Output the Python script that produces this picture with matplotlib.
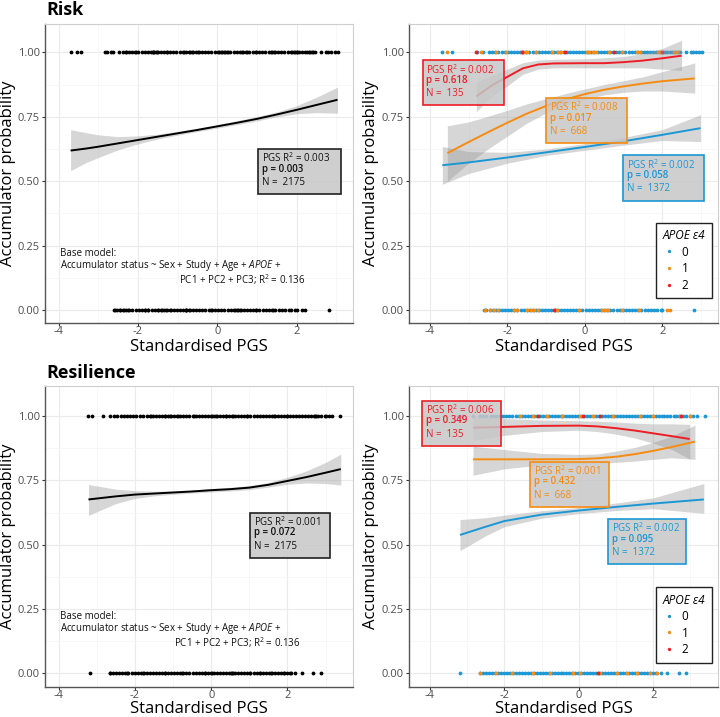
import matplotlib
matplotlib.use('Agg')
import matplotlib.pyplot as plt
from matplotlib.patches import Rectangle
from matplotlib.lines import Line2D

plt.rcParams['font.family'] = ['Open Sans', 'DejaVu Sans']
plt.rcParams['mathtext.fontset'] = 'custom'
plt.rcParams['mathtext.rm'] = 'Open Sans'
plt.rcParams['mathtext.it'] = 'Open Sans:italic'
plt.rcParams['mathtext.bf'] = 'Open Sans:bold'

BLUE, ORANGE, RED = '#1b97d5', '#f68b12', '#ec1d25'
GROUP_COLORS = [BLUE, ORANGE, RED]
GROUP_LABELS = ['0', '1', '2']

# ---------------- Points (standardised PGS of individuals) ----------------
# Risk PGS, accumulators (y = 1), by APOE e4 count
risk_acc_e0 = [-3.70, -3.44, -2.78, -2.62,
               -2.47, -2.39, -2.31, -2.23, -2.15, -2.07, -1.99, -1.91, -1.83, -1.75, -1.67, -1.59,
               -1.51, -1.43, -1.35, -1.27, -1.19, -1.11, -1.03, -0.95, -0.87, -0.79, -0.71, -0.63,
               -0.55, -0.47, -0.39, -0.31, -0.23, -0.15, -0.07, 0.01, 0.09, 0.17, 0.25, 0.33, 0.41,
               0.49, 0.57, 0.65, 0.73, 0.81, 0.89, 0.97, 1.05, 1.13, 1.21, 1.29, 1.37, 1.45, 1.53,
               1.61, 1.69, 1.77, 1.85, 1.93, 2.01, 2.07, 2.13, 2.20, 2.26, 2.33, 2.40, 2.47, 2.62,
               2.74, 2.80, 2.86, 2.96, 3.03]
risk_acc_e1 = [-3.55, -2.68, -2.30, -2.04, -1.62, -1.55, -1.50, -1.27, -0.84, -0.70, -0.62,
               0.05, 0.11, 0.20, 0.28, 0.63, 0.97, 1.35, 1.42, 1.88, 1.95, 2.30, 2.38]
risk_acc_e2 = [-2.82, -1.61, -0.50, 0.75, 2.00]
# Risk PGS, non-accumulators (y = 0)
risk_non_e0 = [-2.60, -2.54, -2.46, -2.38, -2.30, -2.22, -2.14, -2.06, -1.98, -1.90, -1.82,
               -1.74, -1.66, -1.58, -1.50, -1.42, -1.34, -1.26, -1.18, -1.10, -1.02, -0.94, -0.86,
               -0.78, -0.70, -0.62, -0.54, -0.46, -0.38, -0.30, -0.22, -0.14, -0.06, 0.02, 0.10,
               0.18, 0.26, 0.34, 0.42, 0.50, 0.58, 0.66, 0.74, 0.82, 0.90, 0.98, 1.06, 1.14, 1.22,
               1.30, 1.38, 1.46, 1.55, 1.62, 1.70, 1.80, 1.86, 1.96, 2.00, 2.82]
risk_non_e1 = [-2.58, -2.45, -2.35, -2.25, -1.82, -1.75, -1.50, -1.40, -1.30, -1.20, -0.78,
               -0.72, -0.15, 0.45, 0.52, 0.60, 0.97, 1.40, 2.13, 2.20]
risk_non_e2 = [-0.80]

# Resilience PGS, accumulators (y = 1)
res_acc_e0 = [-3.24, -3.13, -2.83, -2.65, -2.56, -2.48,
              -2.36, -2.28, -2.20, -2.12, -2.04, -1.96, -1.88, -1.80, -1.69, -1.61, -1.53, -1.45,
              -1.37, -1.29, -1.21, -1.13, -1.05, -0.97, -0.89, -0.81, -0.73, -0.65, -0.57, -0.49,
              -0.41, -0.33, -0.25, -0.17, -0.09, -0.01, 0.07, 0.15, 0.23, 0.31, 0.39, 0.47, 0.55,
              0.63, 0.71, 0.79, 0.87, 0.95, 1.03, 1.11, 1.19, 1.27, 1.35, 1.43, 1.51, 1.59, 1.67,
              1.75, 1.83, 1.91, 1.99, 2.07, 2.15, 2.23, 2.30, 2.38, 2.46, 2.55, 2.62, 2.70, 2.80,
              2.88, 3.00, 3.08, 3.17, 3.38]
res_acc_e1 = [-1.58, -1.22, -0.86, -0.46, 0.03, 0.39, 0.93, 1.65, 2.00, 2.72, 2.99]
res_acc_e2 = [-1.09, 0.12, 0.57, 2.75]
# Resilience PGS, non-accumulators (y = 0)
res_non_e0 = [-3.19, -2.65, -2.57, -2.49, -2.41, -2.33, -2.25, -2.17, -2.09, -2.01, -1.93,
              -1.85, -1.77, -1.69, -1.61, -1.53, -1.45, -1.37, -1.29, -1.21, -1.13, -1.05, -0.97,
              -0.89, -0.81, -0.73, -0.65, -0.57, -0.49, -0.41, -0.33, -0.25, -0.17, -0.09, -0.01,
              0.07, 0.15, 0.23, 0.31, 0.39, 0.47, 0.55, 0.63, 0.71, 0.79, 0.87, 0.95, 1.03, 1.11,
              1.19, 1.27, 1.35, 1.43, 1.51, 1.59, 1.67, 1.75, 1.83, 1.91, 1.99, 2.07, 2.20, 2.38,
              2.68, 2.88]
res_non_e1 = [-2.66, -2.21, -1.80, -1.22, -0.77, -0.15, 0.03, 0.57, 1.02, 1.29, 1.56, 1.91, 2.10]
res_non_e2 = [0.52]

# ---------------- Smooth fits (x, fit, lower, upper) ----------------
risk_all_x = [-3.70, -3.30, -3.00, -2.50, -2.00, -1.50, -1.00, -0.50, 0.00, 0.50, 1.00, 1.50, 2.00, 2.50, 3.03]
risk_all_fit = [0.619, 0.627, 0.634, 0.647, 0.660, 0.673, 0.686, 0.699, 0.713, 0.727, 0.742, 0.759, 0.777, 0.796, 0.816]
risk_all_lo = [0.541, 0.573, 0.592, 0.622, 0.645, 0.664, 0.679, 0.693, 0.706, 0.720, 0.734, 0.750, 0.762, 0.766, 0.764]
risk_all_hi = [0.700, 0.688, 0.680, 0.673, 0.676, 0.683, 0.694, 0.706, 0.720, 0.735, 0.751, 0.769, 0.793, 0.826, 0.865]

res_all_x = [-3.22, -2.50, -2.00, -1.50, -1.00, -0.50, 0.00, 0.50, 1.00, 1.50, 2.00, 2.50, 3.00, 3.40]
res_all_fit = [0.676, 0.688, 0.695, 0.699, 0.703, 0.707, 0.712, 0.716, 0.722, 0.733, 0.748, 0.763, 0.780, 0.794]
res_all_lo = [0.614, 0.660, 0.680, 0.690, 0.696, 0.701, 0.705, 0.709, 0.714, 0.724, 0.735, 0.740, 0.738, 0.732]
res_all_hi = [0.734, 0.716, 0.710, 0.708, 0.710, 0.713, 0.719, 0.723, 0.730, 0.742, 0.762, 0.787, 0.820, 0.852]

risk_e0_x = [-3.68, -3.00, -2.00, -1.00, 0.00, 1.00, 2.00, 2.99]
risk_e0_fit = [0.562, 0.573, 0.592, 0.612, 0.633, 0.655, 0.680, 0.706]
risk_e0_lo = [0.488, 0.530, 0.570, 0.600, 0.620, 0.640, 0.658, 0.654]
risk_e0_hi = [0.635, 0.615, 0.612, 0.625, 0.646, 0.670, 0.700, 0.758]

risk_e1_x = [-3.55, -3.00, -2.50, -2.00, -1.50, -1.00, -0.50, 0.00, 0.50, 1.00, 1.50, 2.00, 2.84]
risk_e1_fit = [0.609, 0.652, 0.690, 0.727, 0.762, 0.792, 0.817, 0.838, 0.855, 0.868, 0.879, 0.888, 0.899]
risk_e1_lo = [0.500, 0.570, 0.625, 0.675, 0.725, 0.765, 0.795, 0.818, 0.835, 0.845, 0.850, 0.850, 0.842]
risk_e1_hi = [0.715, 0.730, 0.752, 0.775, 0.800, 0.820, 0.840, 0.858, 0.875, 0.890, 0.905, 0.925, 0.959]

risk_e2_x = [-2.80, -2.40, -2.00, -1.60, -1.20, -0.80, 0.00, 0.50, 1.00, 1.50, 2.00, 2.50]
risk_e2_fit = [0.829, 0.872, 0.905, 0.938, 0.953, 0.957, 0.958, 0.958, 0.962, 0.968, 0.977, 0.987]
risk_e2_lo = [0.770, 0.830, 0.870, 0.915, 0.935, 0.940, 0.940, 0.940, 0.940, 0.940, 0.935, 0.930]
risk_e2_hi = [0.885, 0.910, 0.935, 0.960, 0.970, 0.973, 0.975, 0.979, 0.984, 0.995, 1.015, 1.047]

res_e0_x = [-3.19, -2.50, -2.00, -1.00, 0.00, 1.00, 2.00, 3.36]
res_e0_fit = [0.538, 0.570, 0.592, 0.617, 0.633, 0.647, 0.660, 0.676]
res_e0_lo = [0.477, 0.535, 0.570, 0.603, 0.621, 0.633, 0.640, 0.622]
res_e0_hi = [0.598, 0.605, 0.615, 0.632, 0.645, 0.662, 0.682, 0.738]

res_e1_x = [-2.84, -2.00, -1.00, 0.00, 0.50, 1.00, 1.50, 2.00, 2.50, 3.12]
res_e1_fit = [0.832, 0.832, 0.832, 0.833, 0.836, 0.842, 0.852, 0.865, 0.880, 0.901]
res_e1_lo = [0.770, 0.795, 0.810, 0.815, 0.818, 0.820, 0.825, 0.832, 0.838, 0.832]
res_e1_hi = [0.883, 0.870, 0.855, 0.851, 0.853, 0.864, 0.878, 0.898, 0.922, 0.965]

res_e2_x = [-2.84, -2.00, -1.00, 0.00, 0.50, 1.00, 1.50, 2.00, 2.50, 2.98]
res_e2_fit = [0.955, 0.958, 0.962, 0.963, 0.960, 0.953, 0.944, 0.933, 0.922, 0.911]
res_e2_lo = [0.905, 0.925, 0.940, 0.945, 0.940, 0.930, 0.915, 0.895, 0.870, 0.833]
res_e2_hi = [1.005, 0.990, 0.985, 0.982, 0.980, 0.977, 0.973, 0.970, 0.970, 0.968]

# ---------------- Annotation texts ----------------
risk_all_stats = ['PGS R$^2$ = 0.003', 'p = 0.003', 'N =  2175']
res_all_stats = ['PGS R$^2$ = 0.001', 'p = 0.072', 'N =  2175']
risk_grp_stats = [['PGS R$^2$ = 0.002', 'p = 0.058', 'N =  1372'],
                  ['PGS R$^2$ = 0.008', 'p = 0.017', 'N =  668'],
                  ['PGS R$^2$ = 0.002', 'p = 0.618', 'N =  135']]
res_grp_stats = [['PGS R$^2$ = 0.002', 'p = 0.095', 'N =  1372'],
                 ['PGS R$^2$ = 0.001', 'p = 0.432', 'N =  668'],
                 ['PGS R$^2$ = 0.006', 'p = 0.349', 'N =  135']]
base_model = ['Base model:',
              'Accumulator status ~ Sex + Study + Age + $\\it{APOE}$ +',
              'PC1 + PC2 + PC3; R$^2$ = 0.136']

# ---------------- Figure ----------------
W, H = 720, 717
fig = plt.figure(figsize=(W / 100, H / 100), dpi=100)


def px_axes(l, t, r, b):
    return fig.add_axes([l / W, 1 - b / H, (r - l) / W, (b - t) / H])


ax_tl = px_axes(45, 24, 353, 323)
ax_tr = px_axes(409, 24, 718, 323)
ax_bl = px_axes(45, 386, 353, 687)
ax_br = px_axes(409, 386, 718, 687)

ax_tl.set_xlim(-4.345, 3.42); ax_tl.set_ylim(-0.05, 1.11)
ax_tr.set_xlim(-4.54, 3.44); ax_tr.set_ylim(-0.05, 1.11)
ax_bl.set_xlim(-4.36, 3.72); ax_bl.set_ylim(-0.053, 1.117)
ax_br.set_xlim(-4.56, 3.74); ax_br.set_ylim(-0.053, 1.117)


def style(ax, ylab_x, xlab_y):
    ax.set_xticks([-4, -2, 0, 2])
    ax.set_xticklabels(['-4', '-2', '0', '2'])
    ax.set_yticks([0, 0.25, 0.5, 0.75, 1.0])
    ax.set_yticklabels(['0.00', '0.25', '0.50', '0.75', '1.00'])
    ax.set_xticks([-3, -1, 1, 3], minor=True)
    ax.set_yticks([0.125, 0.375, 0.625, 0.875], minor=True)
    ax.tick_params(which='minor', length=0)
    ax.tick_params(which='major', length=2.2, width=0.8, color='#333333',
                   labelcolor='#4d4d4d', labelsize=8)
    ax.tick_params(axis='x', which='major', pad=0.3)
    ax.tick_params(axis='y', which='major', pad=1.5)
    ax.grid(which='major', color='#ebebeb', lw=0.8)
    ax.grid(which='minor', color='#f4f4f4', lw=0.5)
    ax.set_axisbelow(True)
    for s in ['top', 'right']:
        ax.spines[s].set_color('#cfcfcf'); ax.spines[s].set_linewidth(0.8)
    for s in ['left', 'bottom']:
        ax.spines[s].set_color('#555555'); ax.spines[s].set_linewidth(1.0)
    ax.set_xlabel('Standardised PGS', fontsize=12)
    ax.set_ylabel('Accumulator probability', fontsize=12)
    ax.yaxis.set_label_coords(ylab_x, 0.5)
    ax.xaxis.set_label_coords(0.5, xlab_y)


style(ax_tl, -0.094, -0.054)
style(ax_tr, -0.097, -0.054)
style(ax_bl, -0.094, -0.045)
style(ax_br, -0.097, -0.045)

PT = 7.5


def strip(ax, xs, y, color):
    ax.scatter(xs, [y] * len(xs), s=PT, color=color, lw=0, zorder=2)


def smooth(ax, x, fit, lo, hi, color):
    ax.fill_between(x, lo, hi, color='#999999', alpha=0.4, lw=0, zorder=3)
    ax.plot(x, fit, color=color, lw=1.4, zorder=4, solid_capstyle='butt', solid_joinstyle='round')


def box(ax, x0, top, lines, color, ec):
    h = 0.175
    ax.add_patch(Rectangle((x0, top - h), 2.1, h, facecolor=(0.78, 0.78, 0.78, 0.85),
                           edgecolor=ec, lw=1.2, zorder=6))
    offs = [-0.036, -0.078, -0.130]
    for i, (t, o) in enumerate(zip(lines, offs)):
        ax.text(x0 + 0.1, top + o, t, color=color, fontsize=7, va='center', ha='left',
                fontweight='semibold' if i == 1 else 'normal', zorder=7)


def base_text(ax):
    ax.text(-3.97, 0.22, base_model[0], fontsize=7, va='center', ha='left', color='#111111')
    ax.text(-3.97, 0.175, base_model[1], fontsize=7, va='center', ha='left', color='#111111')
    ax.text(-0.97, 0.12, base_model[2], fontsize=7, va='center', ha='left', color='#111111')


# Top-left: Risk, all
strip(ax_tl, risk_acc_e0 + risk_acc_e1 + risk_acc_e2, 1.0, 'black')
strip(ax_tl, risk_non_e0 + risk_non_e1 + risk_non_e2, 0.0, 'black')
smooth(ax_tl, risk_all_x, risk_all_fit, risk_all_lo, risk_all_hi, 'black')
box(ax_tl, 1.02, 0.624, risk_all_stats, '#111111', '#222222')
base_text(ax_tl)

# Bottom-left: Resilience, all
strip(ax_bl, res_acc_e0 + res_acc_e1 + res_acc_e2, 1.0, 'black')
strip(ax_bl, res_non_e0 + res_non_e1 + res_non_e2, 0.0, 'black')
smooth(ax_bl, res_all_x, res_all_fit, res_all_lo, res_all_hi, 'black')
box(ax_bl, 1.02, 0.624, res_all_stats, '#111111', '#222222')
base_text(ax_bl)

# Top-right: Risk by APOE
for xs, c in zip([risk_acc_e0, risk_acc_e1, risk_acc_e2], GROUP_COLORS):
    strip(ax_tr, xs, 1.0, c)
for xs, c in zip([risk_non_e0, risk_non_e1, risk_non_e2], GROUP_COLORS):
    strip(ax_tr, xs, 0.0, c)
smooth(ax_tr, risk_e0_x, risk_e0_fit, risk_e0_lo, risk_e0_hi, BLUE)
smooth(ax_tr, risk_e1_x, risk_e1_fit, risk_e1_lo, risk_e1_hi, ORANGE)
smooth(ax_tr, risk_e2_x, risk_e2_fit, risk_e2_lo, risk_e2_hi, RED)
box(ax_tr, 0.99, 0.600, risk_grp_stats[0], BLUE, BLUE)
box(ax_tr, -1.00, 0.823, risk_grp_stats[1], ORANGE, ORANGE)
box(ax_tr, -4.19, 0.969, risk_grp_stats[2], RED, RED)

# Bottom-right: Resilience by APOE
for xs, c in zip([res_acc_e0, res_acc_e1, res_acc_e2], GROUP_COLORS):
    strip(ax_br, xs, 1.0, c)
for xs, c in zip([res_non_e0, res_non_e1, res_non_e2], GROUP_COLORS):
    strip(ax_br, xs, 0.0, c)
smooth(ax_br, res_e0_x, res_e0_fit, res_e0_lo, res_e0_hi, BLUE)
smooth(ax_br, res_e1_x, res_e1_fit, res_e1_lo, res_e1_hi, ORANGE)
smooth(ax_br, res_e2_x, res_e2_fit, res_e2_lo, res_e2_hi, RED)
box(ax_br, 0.79, 0.600, res_grp_stats[0], BLUE, BLUE)
box(ax_br, -1.30, 0.823, res_grp_stats[1], ORANGE, ORANGE)
box(ax_br, -4.20, 1.060, res_grp_stats[2], RED, RED)

for ax, by in [(ax_tr, 0.083), (ax_br, 0.081)]:
    handles = [Line2D([], [], ls='', marker='o', markersize=2.4, color=c, mec='none')
               for c in GROUP_COLORS]
    leg = ax.legend(handles, GROUP_LABELS, title='APOE ε4', loc='lower right',
                    bbox_to_anchor=(0.98, by), borderaxespad=0, fontsize=8.5, frameon=True,
                    fancybox=False, framealpha=1, edgecolor='#222222', handlelength=1.0,
                    handletextpad=0.6, labelspacing=0.3, borderpad=0.55,
                    title_fontproperties={'style': 'italic', 'size': 8.5})
    leg.get_frame().set_linewidth(1.0)
    leg._legend_box.align = 'left'
    leg.set_zorder(10)

fig.text(46 / W, 1 - 15 / H, 'Risk', fontsize=13, fontweight='bold', va='baseline', ha='left')
fig.text(46 / W, 1 - 378.5 / H, 'Resilience', fontsize=13, fontweight='bold', va='baseline', ha='left')

fig.savefig('out.png', dpi=100)
